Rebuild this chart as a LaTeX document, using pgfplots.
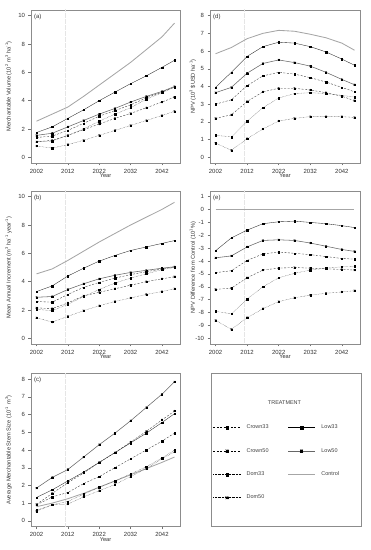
\documentclass[border=0pt]{standalone}
\usepackage{fontspec}
\setmainfont{Liberation Sans}
\usepackage{pgfplots}
\usepackage{pgfplotstable}
\pgfplotsset{compat=1.18}

\pgfdeclareplotmark{sqast}{%
  \pgfpathrectangle{\pgfqpoint{-0.7\pgfplotmarksize}{-0.7\pgfplotmarksize}}{\pgfqpoint{1.4\pgfplotmarksize}{1.4\pgfplotmarksize}}%
  \pgfusepathqfillstroke
  \pgfpathmoveto{\pgfqpoint{-1.1\pgfplotmarksize}{-1.1\pgfplotmarksize}}\pgfpathlineto{\pgfqpoint{1.1\pgfplotmarksize}{1.1\pgfplotmarksize}}%
  \pgfpathmoveto{\pgfqpoint{-1.1\pgfplotmarksize}{1.1\pgfplotmarksize}}\pgfpathlineto{\pgfqpoint{1.1\pgfplotmarksize}{-1.1\pgfplotmarksize}}%
  \pgfpathmoveto{\pgfqpoint{0pt}{-1.3\pgfplotmarksize}}\pgfpathlineto{\pgfqpoint{0pt}{1.3\pgfplotmarksize}}%
  \pgfusepathqstroke}

\pgfplotstableread{
year L33 L50 C33 C50 D33 D50 Ctrl
2002 1.75 1.55 1.40 1.10 1.10 0.80 2.55
2007 2.15 1.70 1.50 1.20 1.15 0.65 3.05
2012 2.75 2.15 1.90 1.55 1.55 0.90 3.55
2017 3.35 2.60 2.40 1.95 2.00 1.20 4.30
2022 4.00 3.05 2.90 2.35 2.55 1.55 5.10
2027 4.60 3.45 3.30 2.75 3.05 1.90 5.90
2032 5.20 3.90 3.70 3.10 3.50 2.25 6.70
2037 5.75 4.30 4.20 3.50 4.10 2.60 7.60
2042 6.35 4.65 4.60 3.90 4.55 2.95 8.50
2046 6.85 5.00 4.97 4.25 4.95 3.25 9.47
}\tabA

\pgfplotstableread{
year L33 L50 C33 C50 D33 D50 Ctrl
2002 3.30 2.90 2.60 2.15 2.05 1.45 4.55
2007 3.70 2.95 2.55 2.10 1.95 1.15 4.90
2012 4.40 3.45 3.10 2.50 2.40 1.55 5.50
2017 4.95 3.85 3.60 3.00 2.95 1.95 6.15
2022 5.45 4.20 3.95 3.25 3.45 2.30 6.80
2027 5.85 4.45 4.25 3.50 3.90 2.60 7.40
2032 6.20 4.65 4.50 3.75 4.25 2.85 8.00
2037 6.45 4.80 4.70 4.00 4.55 3.10 8.55
2042 6.70 4.95 4.90 4.20 4.85 3.30 9.10
2046 6.90 5.05 5.05 4.35 5.00 3.50 9.60
}\tabB

\pgfplotstableread{
year L33 L50 C33 C50 D33 D50 Ctrl
2002 1.32 1.85 0.90 0.93 0.60 0.55 0.80
2007 1.75 2.45 1.35 1.55 0.90 0.90 1.00
2012 2.25 2.90 1.60 2.15 1.10 0.95 1.25
2017 2.75 3.60 2.10 2.70 1.50 1.35 1.55
2022 3.30 4.30 2.50 3.30 1.90 1.70 1.90
2027 3.85 4.95 3.00 3.85 2.25 2.05 2.25
2032 4.40 5.65 3.50 4.45 2.65 2.50 2.60
2037 4.95 6.40 4.00 5.05 3.05 2.95 2.95
2042 5.55 7.15 4.50 5.70 3.55 3.50 3.30
2046 6.05 7.85 4.95 6.20 4.00 3.90 3.60
}\tabC

\pgfplotstableread{
year L33 L50 C33 C50 D33 D50 Ctrl
2002 3.95 3.65 3.00 2.20 1.25 0.80 5.85
2007 4.80 3.95 3.25 2.40 1.15 0.40 6.20
2012 5.70 4.75 4.05 3.15 2.05 1.05 6.70
2017 6.25 5.30 4.60 3.70 2.80 1.60 7.00
2022 6.50 5.50 4.80 3.90 3.35 2.05 7.17
2027 6.45 5.35 4.70 3.90 3.60 2.20 7.12
2032 6.25 5.15 4.50 3.80 3.65 2.30 6.95
2037 5.95 4.80 4.25 3.65 3.60 2.30 6.75
2042 5.55 4.40 3.95 3.45 3.50 2.30 6.45
2046 5.20 4.10 3.70 3.20 3.40 2.25 6.05
}\tabD

\pgfplotstableread{
year L33 L50 C33 C50 D33 D50 Ctrl
2002 -3.20 -3.75 -4.90 -6.20 -7.90 -8.60 0
2007 -2.20 -3.60 -4.75 -6.10 -8.10 -9.30 0
2012 -1.60 -2.90 -3.95 -5.30 -6.95 -8.40 0
2017 -1.10 -2.40 -3.45 -4.70 -6.00 -7.70 0
2022 -0.95 -2.35 -3.30 -4.55 -5.30 -7.15 0
2027 -0.90 -2.40 -3.40 -4.50 -4.95 -6.85 0
2032 -1.00 -2.60 -3.50 -4.55 -4.70 -6.65 0
2037 -1.10 -2.85 -3.65 -4.60 -4.55 -6.50 0
2042 -1.25 -3.10 -3.80 -4.65 -4.45 -6.40 0
2046 -1.40 -3.25 -3.85 -4.70 -4.40 -6.30 0
}\tabE

\tikzset{plab/.style={anchor=north west, font=\fontsize{6}{7}\selectfont, text=black!80, inner sep=0pt}}

\pgfplotsset{
  panel/.style={scale only axis, width=149bp, height=153bp,
    xmin=2000.24, xmax=2047.76,
    xtick={2002,2012,2022,2032,2042},
    tick align=outside, tick pos=left, major tick length=2.5bp,
    axis line style={draw=black!45, line width=0.5bp},
    tick style={black!55, line width=0.4bp},
    ticklabel style={font=\fontsize{6}{7}\selectfont, text=black!80},
    label style={font=\fontsize{5.7}{6.5}\selectfont, text=black!80},
    /pgf/number format/1000 sep={}, /pgf/number format/assume math mode=true,
    xlabel={Year},
    xlabel style={at={(axis description cs:0.5,-0.085)}, anchor=center},
    ylabel style={at={(axis description cs:-0.15,0.5)}, anchor=center},
  },
  rpanel/.style={panel, width=150bp,
    ylabel style={at={(axis description cs:-0.115,0.5)}, anchor=center}},
  mk33/.style={mark=square*, mark size=0.7bp, mark options={solid, fill=black, draw=black, line width=0.2bp}},
  mk50/.style={mark=sqast, mark size=0.8bp, mark options={solid, fill=black, draw=black, line width=0.3bp}},
  sL33/.style={black!85, line width=0.35bp, mk33},
  sL50/.style={black!60, line width=0.55bp, mk50},
  sC33/.style={black!80, line width=0.35bp, dash pattern=on 2bp off 1.5bp, mk33},
  sC50/.style={black!80, line width=0.35bp, dash pattern=on 2bp off 1.5bp, mk50},
  sD33/.style={black!75, line width=0.35bp, dash pattern=on 0.5bp off 0.9bp, mk33},
  sD50/.style={black!75, line width=0.35bp, dash pattern=on 0.5bp off 0.9bp, mk50},
  sCt/.style={black!35, line width=0.85bp, no marks},
  vref/.style={black!10, line width=0.3bp, dash pattern=on 0.4bp off 0.8bp, forget plot, no marks},
}

\newcommand{\allseries}[1]{%
  \addplot[sCt] table[x=year,y=Ctrl]{#1};
  \addplot[sD50] table[x=year,y=D50]{#1};
  \addplot[sD33] table[x=year,y=D33]{#1};
  \addplot[sC50] table[x=year,y=C50]{#1};
  \addplot[sC33] table[x=year,y=C33]{#1};
  \addplot[sL50] table[x=year,y=L50]{#1};
  \addplot[sL33] table[x=year,y=L33]{#1};
}

\begin{document}
\begin{tikzpicture}
\path[use as bounding box] (0,0) rectangle (371bp,550bp);

% (a)
\begin{axis}[panel, at={(31bp,387bp)}, anchor=south west,
  ymin=-0.4, ymax=10.4, ytick={0,2,4,6,8,10},
  ylabel={Merchantable Volume (10\textsuperscript{2} m\textsuperscript{3} ha\textsuperscript{-1})}]
\addplot[vref] coordinates {(2011,-1) (2011,11)};
\allseries{\tabA}
\node[plab] at (rel axis cs:0.02,0.975) {(a)};
\end{axis}

% (b)
\begin{axis}[panel, at={(31bp,206bp)}, anchor=south west,
  ymin=-0.4, ymax=10.4, ytick={0,2,4,6,8,10},
  ylabel={Mean Annual Increment (m\textsuperscript{3} ha\textsuperscript{-1} year\textsuperscript{-1})}]
\addplot[vref] coordinates {(2011,-1) (2011,11)};
\allseries{\tabB}
\node[plab] at (rel axis cs:0.02,0.975) {(b)};
\end{axis}

% (c)
\begin{axis}[panel, at={(31bp,23.5bp)}, anchor=south west,
  ymin=-0.32, ymax=8.32, ytick={0,1,...,8},
  ylabel={Average Merchantable Stem Size (10\textsuperscript{-1} m\textsuperscript{3})}]
\addplot[vref] coordinates {(2011,-1) (2011,11)};
\allseries{\tabC}
\node[plab] at (rel axis cs:0.02,0.975) {(c)};
\end{axis}

% (d)
\begin{axis}[rpanel, at={(210bp,387bp)}, anchor=south west,
  ymin=-0.32, ymax=8.32, ytick={0,1,...,8},
  ylabel={NPV (10\textsuperscript{3} \$USD ha\textsuperscript{-1})}]
\addplot[vref] coordinates {(2011,-1) (2011,11)};
\allseries{\tabD}
\node[plab] at (rel axis cs:0.02,0.975) {(d)};
\end{axis}

% (e)
\begin{axis}[rpanel, at={(210bp,206bp)}, anchor=south west,
  ymin=-10.44, ymax=1.44, ytick={-10,-9,...,1},
  ylabel={NPV Difference from Control (10\textsuperscript{1}\%)}]
\addplot[vref] coordinates {(2011,-11) (2011,2)};
\allseries{\tabE}
\node[plab] at (rel axis cs:0.02,0.975) {(e)};
\end{axis}

% legend panel
\begin{axis}[scale only axis, width=150bp, height=153bp, at={(211bp,23.5bp)}, anchor=south west,
  xmin=0, xmax=1, ymin=0, ymax=1, xtick=\empty, ytick=\empty,
  axis line style={draw=black!45, line width=0.5bp},
  legend image code/.code={\draw[mark repeat=2,mark phase=2,#1] plot coordinates {(0bp,0bp) (13.5bp,0bp) (27bp,0bp)};},
  legend style={at={(rel axis cs:0.013,0.665)}, anchor=north west, draw=none, fill=none,
    font=\fontsize{5.5}{6.5}\selectfont, text=black!75, legend columns=2,
    row sep=18bp, inner sep=0pt, nodes={inner sep=0pt},
    /tikz/every odd column/.append style={column sep=6bp},
    /tikz/every even column/.append style={column sep=19bp}},
  legend cell align=left]
\addlegendimage{sC33, black, line width=0.5bp, mark size=1.3bp}\addlegendentry{Crown33}
\addlegendimage{sL33, black, line width=0.5bp, mark size=1.3bp}\addlegendentry{Low33}
\addlegendimage{sC50, black, line width=0.5bp, mark size=1.3bp}\addlegendentry{Crown50}
\addlegendimage{sL50, line width=0.8bp, mark size=1.3bp}\addlegendentry{Low50}
\addlegendimage{sD33, black, line width=0.5bp, mark size=1.3bp}\addlegendentry{Dom33}
\addlegendimage{sCt}\addlegendentry{Control}
\addlegendimage{sD50, black, line width=0.5bp, mark size=1.3bp}\addlegendentry{Dom50}
\node[font=\fontsize{5.5}{6.5}\selectfont, text=black!75] at (rel axis cs:0.49,0.81) {TREATMENT};
\end{axis}
\end{tikzpicture}
\end{document}
